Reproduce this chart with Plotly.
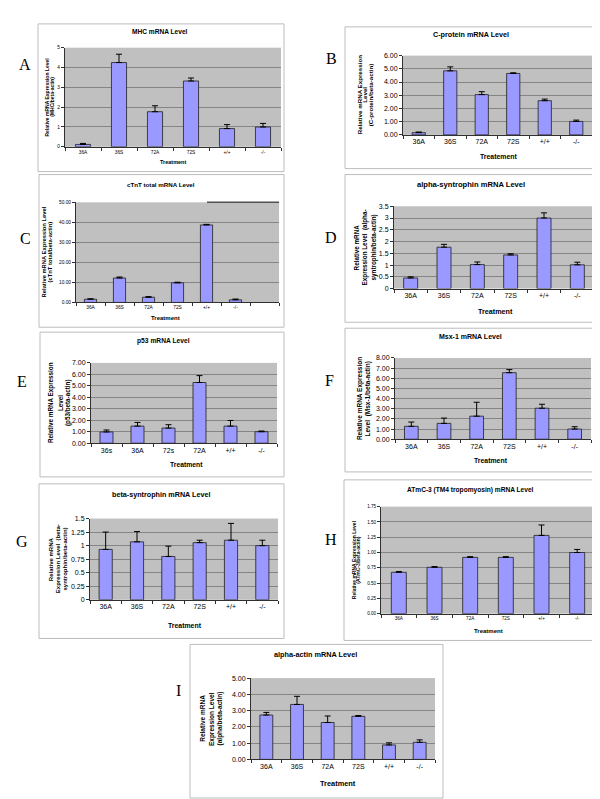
import plotly.graph_objects as go

W, H = 600, 799

# ---------------- data ----------------
cats_std = ["36A", "36S", "72A", "72S", "+/+", "-/-"]
cats_p53 = ["36s", "36A", "72s", "72A", "+/+", "-/-"]

mhc_vals = [0.12, 4.25, 1.77, 3.32, 0.92, 1.00]
mhc_err = [0.05, 0.42, 0.30, 0.15, 0.20, 0.18]
cprot_vals = [0.17, 4.85, 3.05, 4.65, 2.59, 1.02]
cprot_err = [0.05, 0.30, 0.22, 0.05, 0.12, 0.10]
ctnt_vals = [1.6, 12.2, 2.6, 9.8, 38.7, 1.3]
ctnt_err = [0.2, 0.5, 0.3, 0.3, 0.3, 0.4]
asyn_vals = [0.45, 1.76, 1.02, 1.43, 3.00, 1.01]
asyn_err = [0.05, 0.12, 0.11, 0.05, 0.22, 0.11]
p53_vals = [0.98, 1.49, 1.32, 5.29, 1.49, 1.00]
p53_err = [0.17, 0.32, 0.29, 0.60, 0.49, 0.06]
msx_vals = [1.27, 1.56, 2.27, 6.55, 3.05, 1.00]
msx_err = [0.42, 0.52, 1.37, 0.30, 0.39, 0.23]
bsyn_vals = [0.93, 1.07, 0.80, 1.055, 1.10, 1.00]
bsyn_err = [0.32, 0.19, 0.19, 0.045, 0.31, 0.10]
atmc_vals = [0.677, 0.758, 0.92, 0.92, 1.28, 1.00]
atmc_err = [0.012, 0.012, 0.012, 0.012, 0.17, 0.05]
aact_vals = [2.73, 3.38, 2.27, 2.65, 0.89, 1.05]
aact_err = [0.16, 0.50, 0.40, 0.05, 0.13, 0.15]

# ---------------- panel layout ----------------
panels = [
    dict(letter="A", lpos=(17, 53), box=(30, 12, 276, 161), plot=(57, 36, 273, 136),
         cats=cats_std, vals=mhc_vals, err=mhc_err, ymax=5, dtick=1, fmt="d", nslots=6,
         title="MHC mRNA Level", tpos=(152, 20), tsize=6.6,
         xt="Treatment", xtpos=(165, 151), xtsize=5.5, ticksize=4.8,
         ytitle=["Relative mRNA Expression Level", "(MHC/beta-actin)"], ytx=[39.3, 44.5], ytsize=5.0),
    dict(letter="B", lpos=(323, 47), box=(337, 15, 590, 158), plot=(395, 44, 584, 124),
         cats=cats_std, vals=cprot_vals, err=cprot_err, ymax=6, dtick=1, fmt=".2f", nslots=6,
         title="C-protein mRNA Level", tpos=(463, 23), tsize=7.2,
         xt="Treatement", xtpos=(490, 146), xtsize=6.9, ticksize=7,
         ytitle=["Relative mRNA Expression", "Level", "(C-protein/beta-actin)"], ytx=[351, 356.5, 362], ytsize=6.2),
    dict(letter="C", lpos=(17, 228), box=(31, 164, 276, 318), plot=(68, 192, 271, 293),
         cats=cats_std, vals=ctnt_vals, err=ctnt_err, ymax=50, dtick=10, fmt=".2f", nslots=7,
         title="cTnT total mRNA Level", tpos=(153, 174), tsize=6.2,
         xt="Treatment", xtpos=(158, 309), xtsize=6.0, ticksize=4.8,
         ytitle=["Relative mRNA Expression Level", "(cTnT total/beta-actin)"], ytx=[36, 42], ytsize=5.8),
    dict(letter="D", lpos=(323, 227), box=(337, 164, 590, 313), plot=(386, 196, 586, 279),
         cats=cats_std, vals=asyn_vals, err=asyn_err, ymax=3.5, dtick=0.5, fmt="", nslots=6,
         title="alpha-syntrophin mRNA Level", tpos=(463, 174), tsize=7.6,
         xt="Treatment", xtpos=(487, 302), xtsize=7.2, ticksize=7,
         ytitle=["Relative mRNA", "Expression Level  (alpha-", "syntrophin/beta-actin)"], ytx=[348, 357, 366], ytsize=6.3),
    dict(letter="E", lpos=(14, 373), box=(32, 323, 276, 469), plot=(83, 354, 269, 435),
         cats=cats_p53, vals=p53_vals, err=p53_err, ymax=7, dtick=1, fmt=".2f", nslots=6,
         title="p53 mRNA Level", tpos=(155, 332), tsize=6.7,
         xt="Treatment", xtpos=(178, 457), xtsize=6.8, ticksize=7,
         ytitle=["Relative mRNA Expression", "Level", "(p53/beta-actin)"], ytx=[43, 52, 60], ytsize=6.3),
    dict(letter="F", lpos=(321, 372), box=(337, 319, 591, 464), plot=(387, 349, 583, 431),
         cats=cats_std, vals=msx_vals, err=msx_err, ymax=8, dtick=1, fmt=".2f", nslots=6,
         title="Msx-1 mRNA Level", tpos=(463, 327), tsize=7.0,
         xt="Treatment", xtpos=(483, 452), xtsize=6.9, ticksize=7,
         ytitle=["Relative mRNA Expression", "Level  (Msx-1/beta-actin)"], ytx=[351.5, 360], ytsize=6.5),
    dict(letter="G", lpos=(14, 534), box=(31, 476, 276, 632), plot=(82, 511, 270, 593),
         cats=cats_std, vals=bsyn_vals, err=bsyn_err, ymax=1.5, dtick=0.25, fmt="", nslots=6,
         title="beta-syntrophin mRNA Level", tpos=(153, 487), tsize=7.2,
         xt="Treatment", xtpos=(177, 619), xtsize=6.9, ticksize=7,
         ytitle=["Relative mRNA", "Expression Level  (beta-", "syntrophin/beta-actin)"], ytx=[43, 50, 57.3], ytsize=6.0),
    dict(letter="H", lpos=(323, 532), box=(336, 472, 592, 634), plot=(373, 499, 587, 607),
         cats=cats_std, vals=atmc_vals, err=atmc_err, ymax=1.75, dtick=0.25, fmt=".2f", nslots=6,
         title="ATmC-3 (TM4 tropomyosin) mRNA Level", tpos=(462, 482), tsize=6.6,
         xt="Treatment", xtpos=(480, 624), xtsize=6.0, ticksize=4.6,
         ytitle=["Relative mRNA Expression Level", "(ATmC-3/beta-actin)"], ytx=[346, 350.5], ytsize=5.0),
    dict(letter="I", lpos=(171, 685), box=(182, 638, 435, 793), plot=(243, 672, 427, 754),
         cats=cats_std, vals=aact_vals, err=aact_err, ymax=5, dtick=1, fmt=".2f", nslots=6,
         title="alpha-actin mRNA Level", tpos=(307, 648), tsize=7.3,
         xt="Treatment", xtpos=(330, 778), xtsize=7.4, ticksize=7,
         ytitle=["Relative mRNA", "Expression Level", "(alpha/beta-actin)"], ytx=[195, 203.3, 211.7], ytsize=6.5),
]

FONT = "Liberation Sans, Arial, sans-serif"
SERIF = "Liberation Serif, Times New Roman, serif"


def px(x):
    return x / W


def py(y):
    return 1 - y / H


fig = go.Figure()
layout = dict(width=W, height=H, margin=dict(l=0, r=0, t=0, b=0),
              paper_bgcolor="white", plot_bgcolor="#c0c0c0", showlegend=False,
              font=dict(family=FONT, color="black"))
shapes = []
annotations = []

for k, p in enumerate(panels, start=1):
    xname = "x" if k == 1 else f"x{k}"
    yname = "y" if k == 1 else f"y{k}"
    xkey = "xaxis" if k == 1 else f"xaxis{k}"
    ykey = "yaxis" if k == 1 else f"yaxis{k}"
    x0, y0, x1, y1 = p["plot"]
    n = p["nslots"]
    idx = list(range(len(p["cats"])))

    fig.add_trace(go.Bar(
        x=idx, y=p["vals"], width=0.42, xaxis=xname, yaxis=yname,
        marker=dict(color="#9999ff", line=dict(color="#202020", width=0.8)),
        error_y=dict(type="data", symmetric=False, array=p["err"],
                     arrayminus=[0] * len(p["vals"]), color="black",
                     thickness=1, width=3),
        hoverinfo="skip"))

    layout[xkey] = dict(
        domain=[px(x0), px(x1)], anchor=yname, range=[-0.5, n - 0.5],
        tickmode="array", tickvals=idx, ticktext=p["cats"], ticks="",
        tickfont=dict(size=p["ticksize"], family=FONT, color="black"),
        showgrid=False, zeroline=False, showline=True, linecolor="#303030", linewidth=1,
        minor=dict(tickmode="array", tickvals=[i - 0.5 for i in range(n + 1)],
                   ticks="outside", ticklen=3, tickcolor="#303030", showgrid=False),
        fixedrange=True)
    ya = dict(
        domain=[py(y1), py(y0)], anchor=xname, range=[0, p["ymax"]],
        tickmode="linear", tick0=0, dtick=p["dtick"],
        tickfont=dict(size=p["ticksize"], family=FONT, color="black"),
        ticks="outside", ticklen=3, tickcolor="#303030",
        showgrid=True, gridcolor="#858585", gridwidth=1, zeroline=False,
        showline=True, linecolor="#303030", linewidth=1, fixedrange=True)
    if p["fmt"]:
        ya["tickformat"] = p["fmt"]
    layout[ykey] = ya

    bx0, by0, bx1, by1 = p["box"]
    shapes.append(dict(type="rect", xref="paper", yref="paper",
                       x0=px(bx0), x1=px(bx1), y0=py(by1), y1=py(by0),
                       line=dict(color="#bcbcbc", width=1), layer="below"))

    annotations.append(dict(text="<b>%s</b>" % p["title"], x=px(p["tpos"][0]), y=py(p["tpos"][1]),
                            xref="paper", yref="paper", showarrow=False,
                            xanchor="center", yanchor="middle",
                            font=dict(size=p["tsize"], family=FONT, color="black")))
    annotations.append(dict(text="<b>%s</b>" % p["xt"], x=px(p["xtpos"][0]), y=py(p["xtpos"][1]),
                            xref="paper", yref="paper", showarrow=False,
                            xanchor="center", yanchor="middle",
                            font=dict(size=p["xtsize"], family=FONT, color="black")))
    ymid = (y0 + y1) / 2
    for line, lx in zip(p["ytitle"], p["ytx"]):
        annotations.append(dict(text="<b>%s</b>" % line, x=px(lx), y=py(ymid),
                                xref="paper", yref="paper", showarrow=False, textangle=-90,
                                xanchor="center", yanchor="middle",
                                font=dict(size=p["ytsize"], family=FONT, color="black")))
    annotations.append(dict(text=p["letter"], x=px(p["lpos"][0]), y=py(p["lpos"][1]),
                            xref="paper", yref="paper", showarrow=False,
                            xanchor="center", yanchor="middle",
                            font=dict(size=16, family=SERIF, color="black")))

# darker border segment at the top right of panel C's plot area
shapes.append(dict(type="line", xref="paper", yref="paper",
                   x0=px(199), x1=px(271), y0=py(192), y1=py(192),
                   line=dict(color="#505050", width=1.5)))

layout["shapes"] = shapes
layout["annotations"] = annotations
layout["bargap"] = 0.5
fig.update_layout(**layout)

fig.write_html("out.html")
